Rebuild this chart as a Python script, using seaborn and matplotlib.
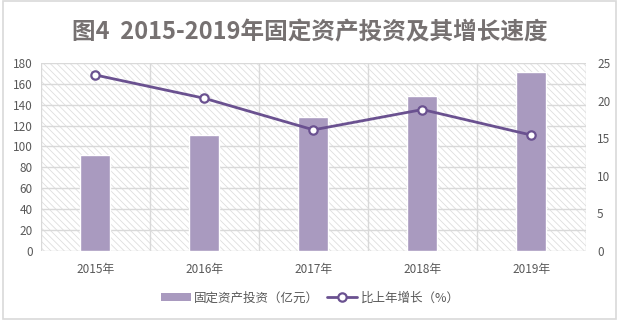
import matplotlib
matplotlib.use("Agg")
import matplotlib.pyplot as plt
import seaborn as sns
import pandas as pd
from matplotlib.patches import Patch, Rectangle
from matplotlib.lines import Line2D

years = ["2015年", "2016年", "2017年", "2018年", "2019年"]
investment = [91.8, 111.0, 128.2, 148.4, 171.4]   # 亿元
growth = [23.4, 20.3, 16.1, 18.8, 15.4]            # %

title = "图4  2015-2019年固定资产投资及其增长速度"
bar_label = "固定资产投资（亿元）"
line_label = "比上年增长（%）"

bar_color = "#a99abf"
line_color = "#6a5190"
grid_color = "#d9d9d9"
text_color = "#595959"

sns.set_theme(style="white")
plt.rcParams["font.family"] = ["Noto Sans CJK SC", "DejaVu Sans"]
plt.rcParams["hatch.color"] = "#dedede"
plt.rcParams["hatch.linewidth"] = 0.6

df = pd.DataFrame({"year": years, "investment": investment, "growth": growth})

fig = plt.figure(figsize=(6.2, 3.23), dpi=100)
ax = fig.add_axes([0.066, 0.2235, 0.879, 0.5815])

# hatched plot area
ax.patch.set_facecolor("white")
ax.patch.set_hatch("\\\\\\\\\\")
ax.patch.set_edgecolor("#dedede")
ax.patch.set_linewidth(0)

sns.barplot(data=df, x="year", y="investment", color=bar_color,
            width=0.275, saturation=1, ax=ax, zorder=3)

ax.set_ylim(0, 180)
ax.set_yticks(range(0, 181, 20))
ax.set_xlim(-0.5, len(years) - 0.5)
ax.set_xlabel("")
ax.set_ylabel("")
ax.yaxis.grid(True, color=grid_color, linewidth=1, zorder=1)
for b in [i + 0.5 for i in range(-1, len(years))]:
    ax.axvline(b, color=grid_color, linewidth=1, zorder=1)
ax.set_axisbelow(True)
for s in ax.spines.values():
    s.set_visible(False)
ax.tick_params(axis="both", length=0, labelsize=8.5, colors=text_color)
ax.tick_params(axis="x", pad=9)
ax.tick_params(axis="y", pad=6)

ax2 = ax.twinx()
sns.pointplot(data=df, x="year", y="growth", color=line_color,
              markers="o", linestyles="-", ax=ax2,
              markersize=6, linewidth=2,
              markerfacecolor="white", markeredgecolor=line_color,
              markeredgewidth=1.6, zorder=5)
ax2.set_ylim(0, 25)
ax2.set_yticks(range(0, 26, 5))
ax2.set_xlim(-0.5, len(years) - 0.5)
ax2.set_xlabel("")
ax2.set_ylabel("")
ax2.grid(False)
for s in ax2.spines.values():
    s.set_visible(False)
ax2.tick_params(axis="y", length=0, labelsize=8.5, colors=text_color, pad=8)

fig.text(0.5, 0.9, title, ha="center", va="center", fontsize=17,
         fontweight="bold", color="#767171")

handles = [
    Patch(facecolor=bar_color, edgecolor="none"),
    Line2D([0], [0], color=line_color, linewidth=2, marker="o", markersize=6,
           markerfacecolor="white", markeredgecolor=line_color,
           markeredgewidth=1.6),
]
fig.legend(handles, [bar_label, line_label], loc="center",
           bbox_to_anchor=(0.5, 0.077), ncol=2, frameon=False,
           fontsize=9, labelcolor=text_color, handlelength=2.4,
           handleheight=0.6, columnspacing=0.6, handletextpad=0.3)

# outer frame
fig.patches.append(Rectangle((2.5 / 620, 1 - 319 / 323), (616 - 2.5) / 620,
                             (319 - 1) / 323, transform=fig.transFigure,
                             fill=False, edgecolor=grid_color, linewidth=1.2))

fig.savefig("out.png", dpi=100)
